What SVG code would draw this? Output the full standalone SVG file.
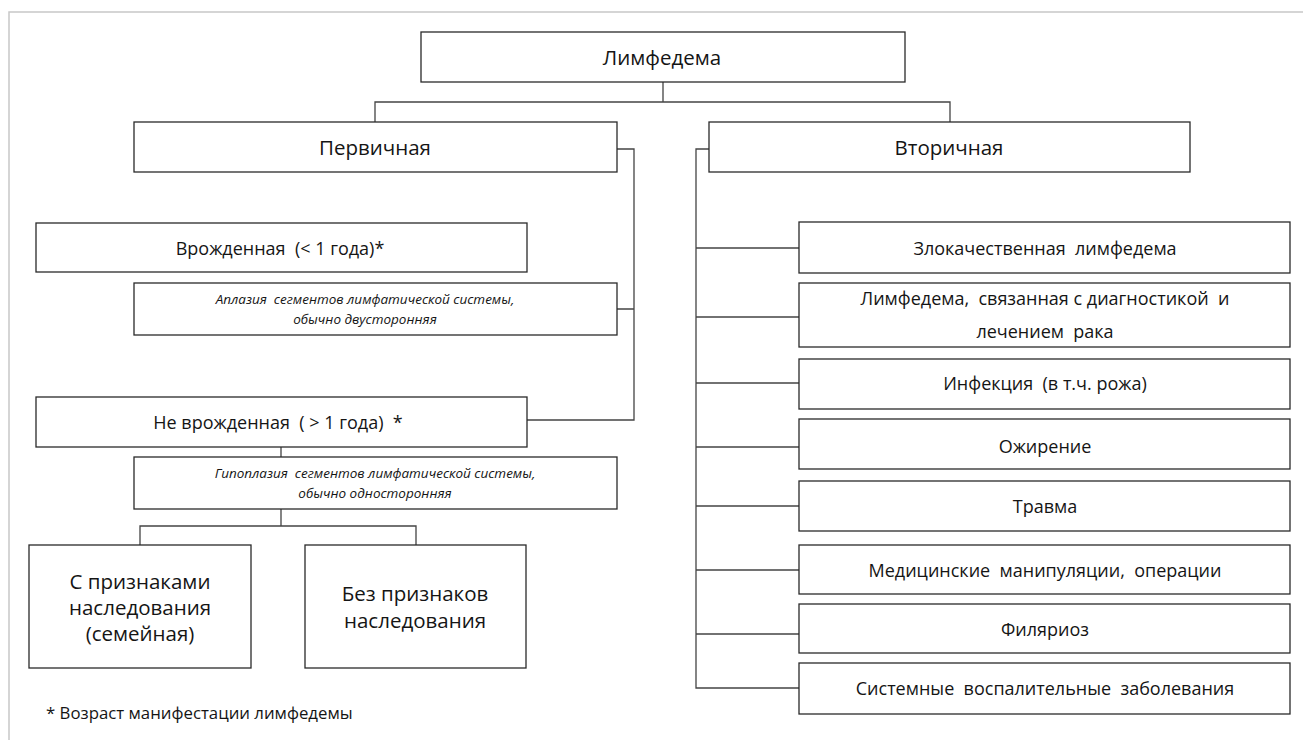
<svg xmlns="http://www.w3.org/2000/svg" width="1303" height="740" viewBox="0 0 1303 740">
<style>
.box{fill:#fff;stroke:#2a2a2a;stroke-width:1.3}
.ln{fill:none;stroke:#444;stroke-width:1.3}
.frame{fill:none;stroke:#c8c8c8;stroke-width:1.5}
text{font-family:"Open Sans","Noto Sans","DejaVu Sans",sans-serif;fill:#151515;text-anchor:middle;white-space:pre}
.h{font-size:20.5px}
.m{font-size:18px}
.it{font-size:13.5px;font-style:italic}
.fn{font-size:16.8px;text-anchor:start}
</style>
<rect width="1303" height="740" fill="#fff"/>
<path class="frame" d="M9,740 V12 H1303"/>
<g id="connectors">
<path class="ln" d="M663,82 V102 M375,122 V102 H950 V122"/>
<path class="ln" d="M617,149 H634 V420 H527 M617,309 H634"/>
<path class="ln" d="M281,447 V457 M281,509 V526 M140,545 V526 H416 V545"/>
<path class="ln" d="M709,149 H696 V688 H799 M696,248 H799 M696,317 H799 M696,383 H799 M696,447 H799 M696,506 H799 M696,570 H799 M696,634 H799"/>
</g>
<g id="n-lymphedema"><rect class="box" x="421" y="32" width="484" height="50"/><text class="h" x="662" y="64.5">Лимфедема</text></g>
<g id="n-primary"><rect class="box" x="134" y="122" width="483" height="50"/><text class="h" x="375" y="155">Первичная</text></g>
<g id="n-secondary"><rect class="box" x="709" y="122" width="481" height="50"/><text class="h" x="949" y="155">Вторичная</text></g>
<g id="n-congenital"><rect class="box" x="36" y="223" width="491" height="49"/><text class="m" x="280" y="254.5" xml:space="preserve">Врожденная  (&lt; 1 года)*</text></g>
<g id="n-aplasia"><rect class="box" x="134" y="283" width="483" height="52"/><text class="it" x="365" y="304" xml:space="preserve">Аплазия  сегментов лимфатической системы,</text><text class="it" x="365" y="324">обычно двусторонняя</text></g>
<g id="n-noncongenital"><rect class="box" x="36" y="397" width="491" height="50"/><text class="m" x="278" y="428.5" xml:space="preserve">Не врожденная  ( &gt; 1 года)  *</text></g>
<g id="n-hypoplasia"><rect class="box" x="134" y="457" width="483" height="52"/><text class="it" x="375" y="478" xml:space="preserve">Гипоплазия  сегментов лимфатической системы,</text><text class="it" x="375" y="498">обычно односторонняя</text></g>
<g id="n-familial"><rect class="box" x="29" y="545" width="222" height="123"/><text class="h" x="140" y="588.5">С признаками</text><text class="h" x="140" y="614.5">наследования</text><text class="h" x="140" y="640.5">(семейная)</text></g>
<g id="n-nonfamilial"><rect class="box" x="305" y="545" width="221" height="123"/><text class="h" x="415" y="601">Без признаков</text><text class="h" x="415" y="628">наследования</text></g>
<g id="n-malignant"><rect class="box" x="799" y="222" width="491" height="51"/><text class="m" x="1045" y="254.5" xml:space="preserve">Злокачественная  лимфедема</text></g>
<g id="n-cancer"><rect class="box" x="799" y="283" width="491" height="64"/><text class="m" x="1045" y="304.5" xml:space="preserve">Лимфедема,  связанная с диагностикой  и</text><text class="m" x="1045" y="337.5" xml:space="preserve">лечением  рака</text></g>
<g id="n-infection"><rect class="box" x="799" y="359" width="491" height="50"/><text class="m" x="1045" y="389.5" xml:space="preserve">Инфекция  (в т.ч. рожа)</text></g>
<g id="n-obesity"><rect class="box" x="799" y="419" width="491" height="50"/><text class="m" x="1045" y="452.5">Ожирение</text></g>
<g id="n-trauma"><rect class="box" x="799" y="481" width="491" height="50"/><text class="m" x="1045" y="512.5">Травма</text></g>
<g id="n-medical"><rect class="box" x="799" y="545" width="491" height="49"/><text class="m" x="1045" y="576.5" xml:space="preserve">Медицинские  манипуляции,  операции</text></g>
<g id="n-filariasis"><rect class="box" x="799" y="604" width="491" height="49"/><text class="m" x="1045" y="635.5">Филяриоз</text></g>
<g id="n-systemic"><rect class="box" x="799" y="663" width="491" height="51"/><text class="m" x="1045" y="694.5" xml:space="preserve">Системные  воспалительные  заболевания</text></g>
<text class="fn" x="46" y="719">* Возраст манифестации лимфедемы</text>
</svg>
